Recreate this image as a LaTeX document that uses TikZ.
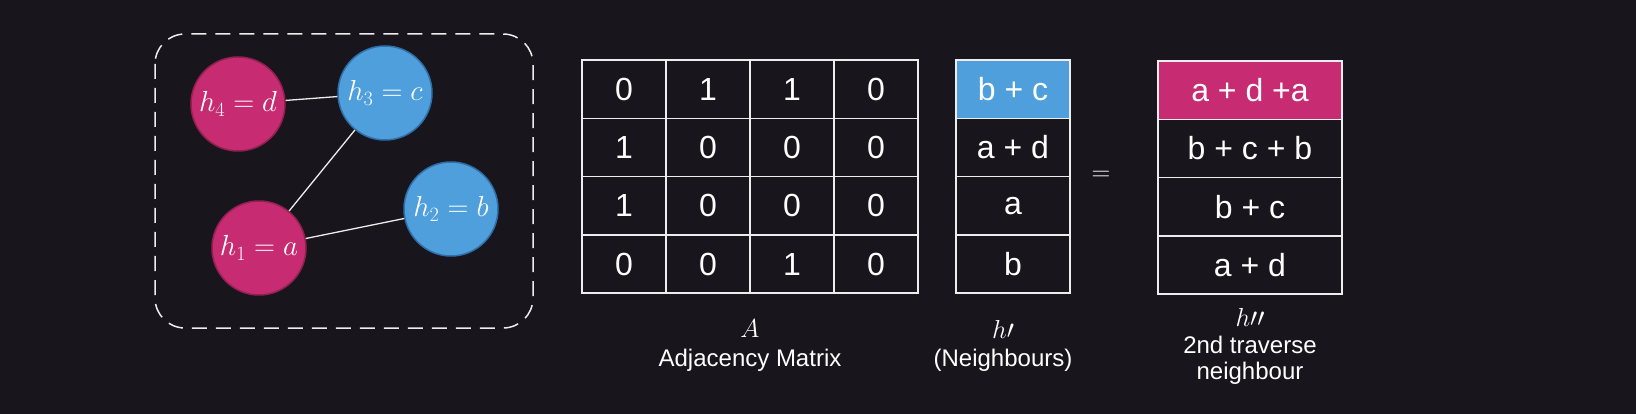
\RequirePackage{fix-cm}
\documentclass[tikz,border=0pt]{standalone}
\usepackage{fontspec}
\setmainfont{Liberation Sans}
\usetikzlibrary{positioning}

\definecolor{bgdark}{HTML}{18161C}
\definecolor{nodepink}{HTML}{C72B71}
\definecolor{pinkrim}{HTML}{94204F}
\definecolor{nodeblue}{HTML}{4E9FDC}
\definecolor{bluerim}{HTML}{2F6EA8}
\definecolor{gridline}{HTML}{EDEDED}

\begin{document}
\begin{tikzpicture}[
  x=1pt, y=-1pt,
  font=\fontsize{31}{36}\selectfont,
  text=white,
  vertex/.style={circle, minimum size=94pt, inner sep=0pt, line width=1.5pt,
                 font=\fontsize{29}{32}\selectfont},
  pinkv/.style={vertex, fill=nodepink, draw=pinkrim},
  bluev/.style={vertex, fill=nodeblue, draw=bluerim},
  edge/.style={draw=gridline, line width=1.3pt},
  cell/.style={rectangle, draw=gridline, line width=1.6pt, fill=bgdark,
               minimum width=84pt, minimum height=58.25pt, inner sep=0pt,
               font=\fontsize{32}{36}\selectfont},
  hcell/.style={cell, minimum width=114pt, font=\fontsize{32}{36}\selectfont},
  hhcell/.style={cell, minimum width=184pt, font=\fontsize{32}{36}\selectfont},
  caption/.style={font=\fontsize{24}{26}\selectfont, inner sep=0pt},
  mathcap/.style={font=\fontsize{26}{30}\selectfont, inner sep=0pt}
]

% background and page size
\fill[bgdark] (0,0) rectangle (1636,414);
\useasboundingbox (0,0) rectangle (1636,414);

% graph
\draw[gridline, line width=1.5pt, dash pattern=on 15pt off 9pt, rounded corners=30pt]
  (155,34) rectangle (533,328);

\node[pinkv] (h4) at (238,104) {$h_4 = d$};
\node[bluev] (h3) at (385,93) {$h_3 = c$};
\node[bluev] (h2) at (451,209) {$h_2 = b$};
\node[pinkv] (h1) at (259,248) {$h_1 = a$};

\draw[edge] (h4) -- (h3);
\draw[edge] (h3) -- (h1);
\draw[edge] (h1) -- (h2);

% adjacency matrix
\foreach \r/\vals in {1/{0,1,1,0}, 2/{1,0,0,0}, 3/{1,0,0,0}, 4/{0,0,1,0}} {
  \foreach \v [count=\c] in \vals {
    \node[cell] (a-\r-\c) at ({540+84*\c}, {31+58.25*\r}) {\v};
  }
}

% first neighbours
\node[hcell, fill=nodeblue] (n1) at (1013,89.25) {b + c};
\node[hcell] (n2) at (1013,147.5) {a + d};
\node[hcell] (n3) at (1013,205.75) {a};
\node[hcell] (n4) at (1013,264) {b};

\node[mathcap] (eq) at (1101,176) {$=$};

% second traverse
\node[hhcell, fill=nodepink] (s1) at (1250,90.25) {a + d +a};
\node[hhcell] (s2) at (1250,148.5) {b + c + b};
\node[hhcell] (s3) at (1250,206.75) {b + c};
\node[hhcell] (s4) at (1250,265) {a + d};

% captions
\node[mathcap] (amath) at (750,329) {$A$};
\node[caption] (atext) at (750,360) {Adjacency Matrix};
\node[mathcap] (nmath) at (1003,329) {$h\prime$};
\node[caption] (ntext) at (1003,360) {(Neighbours)};
\node[mathcap] (smath) at (1250,317) {$h\prime\prime$};
\node[caption, align=center] (stext) at (1250,360)
  {2nd traverse\\ neighbour};

\end{tikzpicture}
\end{document}
